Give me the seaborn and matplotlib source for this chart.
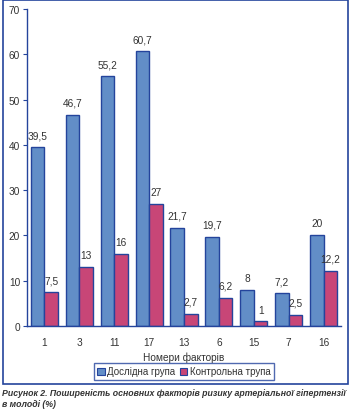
import matplotlib as mpl
mpl.use('Agg')
import matplotlib.pyplot as plt
import matplotlib.patches as mpatches
import numpy as np
import pandas as pd
import seaborn as sns

factors = ['1', '3', '11', '17', '13', '6', '15', '7', '16']
study_vals = [39.5, 46.7, 55.2, 60.7, 21.7, 19.7, 8, 7.2, 20]
control_vals = [7.5, 13, 16, 27, 2.7, 6.2, 1, 2.5, 12.2]
groups = ['Дослідна група', 'Контрольна трупа']

blue = '#628EC7'
pink = '#C84677'
edge = '#24449C'
txt = '#333333'

sns.set_theme(style='white')
plt.rcParams['font.family'] = ['Liberation Sans', 'DejaVu Sans']

df = pd.DataFrame({
    'factor': factors * 2,
    'value': study_vals + control_vals,
    'group': [groups[0]] * len(factors) + [groups[1]] * len(factors),
})

fig = plt.figure(figsize=(3.5, 4.1), dpi=100)
ax = fig.add_axes([27 / 350, 1 - 327 / 410, (341 - 27) / 350, (327 - 10) / 410])

sns.barplot(data=df, x='factor', y='value', hue='group', order=factors,
            hue_order=groups, palette=[blue, pink], width=0.78,
            edgecolor=edge, linewidth=1.0, saturation=1, ax=ax, legend=False)


def fmt(v):
    return ('%g' % v).replace('.', ',')


for cont in ax.containers:
    ax.bar_label(cont, labels=[fmt(b.get_height()) for b in cont],
                 padding=5, fontsize=7.3, color=txt)

ax.set_xlim(-0.5, len(factors) - 0.5)
ax.set_ylim(0, 70)
ax.set_yticks(range(0, 71, 10))
ax.set_xticks(np.arange(-0.5, len(factors), 1.0), minor=True)
ax.tick_params(axis='x', which='major', length=0, pad=8, labelsize=7.3, labelcolor=txt)
ax.tick_params(axis='x', which='minor', length=3, width=0.8, color=edge, direction='out')
ax.tick_params(axis='y', length=3, width=0.8, color=edge, direction='out',
               pad=2, labelsize=7.3, labelcolor=txt, left=True)
for s in ['top', 'right']:
    ax.spines[s].set_visible(False)
for s in ['left', 'bottom']:
    ax.spines[s].set_color(edge)
    ax.spines[s].set_linewidth(1.0)
ax.set_xlabel('Номери факторів', fontsize=7.3, color=txt, labelpad=3)
ax.set_ylabel('')

handles = [mpatches.Patch(facecolor=c, edgecolor=edge, linewidth=0.8, label=g)
           for c, g in zip([blue, pink], groups)]
leg = fig.legend(handles=handles, loc='center', bbox_to_anchor=(184 / 350, 1 - 372.5 / 410),
                 ncol=2, fontsize=7.0, frameon=True, fancybox=False,
                 handlelength=0.75, handleheight=0.75, handletextpad=0.25,
                 columnspacing=0.5, borderpad=0.4, borderaxespad=0, labelcolor=txt)
leg.get_frame().set_edgecolor(edge)
leg.get_frame().set_linewidth(1.0)

# outer frame around chart area
fig.patches.append(mpatches.Rectangle((3 / 350, 1 - 385 / 410), 345 / 350, 384 / 410,
                                      transform=fig.transFigure, fill=False,
                                      edgecolor=edge, linewidth=1.2))

fig.text(2 / 350, 1 - 394 / 410,
         'Рисунок 2. Поширеність основних факторів ризику артеріальної гіпертензії',
         fontsize=6.3, fontweight='bold', fontstyle='italic', color=txt, va='center')
fig.text(2 / 350, 1 - 405 / 410, 'в молоді (%)',
         fontsize=6.3, fontweight='bold', fontstyle='italic', color=txt, va='center')

fig.savefig('out.png', dpi=100)
